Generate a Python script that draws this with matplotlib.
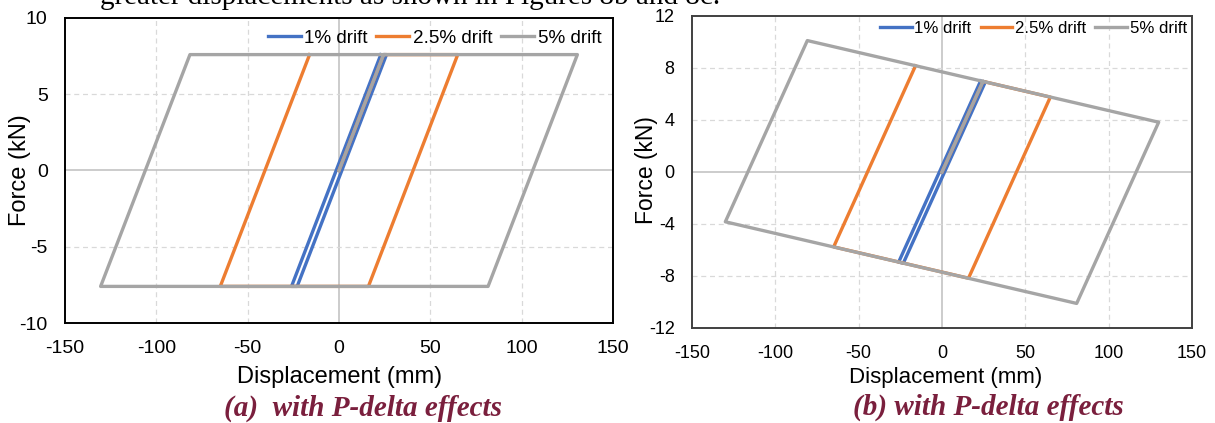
import matplotlib.pyplot as plt

# ---- data (vertices of each hysteresis loop) ----
# (a) force plateau at +/-7.6 kN
a_blue_x = [0, 24.4, 26.0, -22.9, -26.0, 22.9]
a_blue_y = [0, 7.6, 7.6, -7.6, -7.6, 7.6]
a_orange_x = [0, 24.4, 65.0, 16.1, -65.0, -16.1]
a_orange_y = [0, 7.6, 7.6, -7.6, -7.6, 7.6]
a_gray_x = [0, 24.4, 130.5, 81.6, -130.5, -81.6, 24.4]
a_gray_y = [0, 7.6, 7.6, -7.6, -7.6, 7.6, 7.6]

# (b) negative post-yield slope
b_blue_x = [0, 24.6, 26.0, -23.2, -26.0, 23.2]
b_blue_y = [0, 6.97, 6.93, -7.01, -6.93, 7.01]
b_orange_x = [0, 24.6, 65.0, 15.9, -65.0, -15.9]
b_orange_y = [0, 6.97, 5.76, -8.17, -5.76, 8.17]
b_gray_x = [0, 24.6, 130.0, 80.8, -130.0, -80.8, 24.6]
b_gray_y = [0, 6.97, 3.83, -10.11, -3.83, 10.11, 6.97]

labels = ['1% drift', '2.5% drift', '5% drift']
colors = ['#4472C4', '#ED7D31', '#A5A5A5']
xticks = [-150, -100, -50, 0, 50, 100, 150]
a_yticks = [-10, -5, 0, 5, 10]
b_yticks = [-12, -8, -4, 0, 4, 8, 12]

plt.rcParams['font.family'] = ['Liberation Sans', 'DejaVu Sans']
plt.rcParams['axes.unicode_minus'] = False

W, H = 1215, 423
fig = plt.figure(figsize=(12.15, 4.23), dpi=100)
axA = fig.add_axes([65/W, 100/H, 548/W, 305/H])
axB = fig.add_axes([692/W, 95/H, 500/W, 312/H])


def style_axis(ax, yticks, spine_color, tsize, lsize, xlab_pos, ylab_pos):
    ax.set_xlim(-150, 150)
    ax.set_ylim(yticks[0], yticks[-1])
    ax.set_xticks(xticks)
    ax.set_yticks(yticks)
    ax.tick_params(length=0, labelsize=tsize)
    ax.tick_params(axis='x', pad=12)
    ax.tick_params(axis='y', pad=12.5)
    #dashed grid + solid zero lines:
    for t in xticks[1:-1]:
        if t == 0:
            ax.axvline(0, color='#BFBFBF', lw=1.1, zorder=1)
        else:
            ax.axvline(t, color='#D9D9D9', lw=0.9, ls=(0, (4, 3)), zorder=1)
    for t in yticks[1:-1]:
        if t == 0:
            ax.axhline(0, color='#BFBFBF', lw=1.1, zorder=1)
        else:
            ax.axhline(t, color='#D9D9D9', lw=0.9, ls=(0, (4, 3)), zorder=1)
    for s in ax.spines.values():
        s.set_color(spine_color)
        s.set_linewidth(1.4)
        s.set_zorder(5)
    ax.set_xlabel('Displacement (mm)', fontsize=lsize[0], va='center')
    ax.set_ylabel('Force (kN)', fontsize=lsize[1], va='center')
    ax.xaxis.set_label_coords(*xlab_pos)
    ax.yaxis.set_label_coords(*ylab_pos)


series_a = [(a_blue_x, a_blue_y), (a_orange_x, a_orange_y), (a_gray_x, a_gray_y)]
series_b = [(b_blue_x, b_blue_y), (b_orange_x, b_orange_y), (b_gray_x, b_gray_y)]

for ax, series in [(axA, series_a), (axB, series_b)]:
    for (xs, ys), c, lab in zip(series, colors, labels):
        ax.plot(xs, ys, color=c, lw=2.4, label=lab, zorder=3,
                solid_joinstyle='round')

style_axis(axA, a_yticks, 'black', 14, (17, 17),
           ((340 - 65)/548, (323 - 377)/305), ((20 - 65)/548, 0.5))
style_axis(axB, b_yticks, '#404040', 13, (16, 16.5),
           ((946 - 692)/500, (328 - 377)/312), ((646 - 692)/500, 0.506))

axA.legend(loc='upper right', ncol=3, frameon=False, fontsize=13.6,
           handlelength=1.75, handletextpad=0.2, columnspacing=0.45,
           borderaxespad=0.3, borderpad=0.3)
axB.legend(loc='upper right', ncol=3, frameon=False, fontsize=12.1,
           handlelength=1.9, handletextpad=0.15, columnspacing=0.55,
           borderaxespad=0.0, borderpad=0.3)

#Captions and cut-off body text:
cap_color = '#7A1F3D'
fig.text(363/W, 1 - 408/H, '(a)  with P-delta effects', ha='center', va='center',
         fontsize=21, fontweight='bold', fontstyle='italic',
         family='Liberation Serif', color=cap_color)
fig.text(988/W, 1 - 407/H, '(b) with P-delta effects', ha='center', va='center',
         fontsize=21, fontweight='bold', fontstyle='italic',
         family='Liberation Serif', color=cap_color)
fig.text(100/W, 1 - 4/H, 'greater displacements as shown in Figures 8b and 8c.',
         ha='left', va='baseline', fontsize=21, family='Liberation Serif', color='black')

fig.savefig('out.png', dpi=100)
